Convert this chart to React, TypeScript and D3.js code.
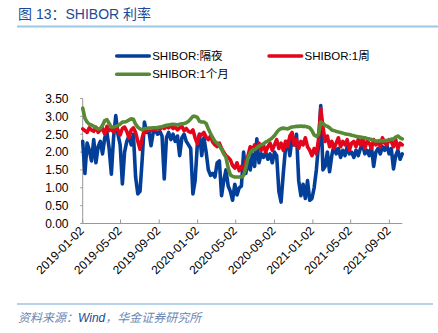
import React from "react";
import * as d3 from "d3";

// Weekly observations starting 2019-01-02
const overnight = [
  2.30, 1.40, 2.25, 2.05, 1.75, 2.35, 1.70, 2.15, 2.30, 1.95,
  2.40, 2.55, 2.10, 1.38, 2.40, 3.02, 2.50, 2.20, 1.11, 2.00,
  2.30, 2.45, 2.20, 2.50, 1.30, 0.83, 0.90, 1.80, 2.84, 2.55,
  2.60, 2.18, 2.55, 2.60, 2.50, 2.58, 2.45, 1.25, 2.40, 2.55,
  2.35, 2.50, 2.30, 2.45, 1.90, 2.40, 2.50, 2.30, 2.20, 2.10,
  0.83, 1.20, 2.20, 2.50, 1.90, 2.40, 2.00, 1.50, 1.35, 1.40,
  1.30, 1.70, 1.75, 0.78, 1.20, 1.50, 1.05, 0.90, 0.65, 1.10,
  0.80, 1.00, 1.05, 2.00, 1.40, 1.80, 1.50, 1.95, 1.60, 2.37,
  1.70, 1.95, 1.85, 2.00, 1.80, 1.95, 1.70, 2.00, 1.90, 0.90,
  0.60, 1.40, 2.10, 2.30, 1.90, 2.40, 2.20, 2.50, 1.20, 0.78,
  1.10, 0.70, 1.20, 0.65, 0.70, 1.00, 1.50, 2.20, 3.30, 1.50,
  1.60, 2.00, 1.45, 1.90, 2.20, 1.95, 2.10, 1.85, 2.05, 1.90,
  2.15, 1.95, 2.00, 1.85, 2.05, 1.90, 2.10, 2.20, 1.95, 2.05,
  1.90, 2.15, 1.60, 2.00, 2.10, 1.95, 2.15, 2.05, 2.20, 1.95,
  2.10, 1.53, 1.90, 2.05, 1.80, 1.95,
];

const oneWeek = [
  2.65, 2.60, 2.55, 2.68, 2.62, 2.58, 2.70, 2.55, 2.62, 2.66,
  2.50, 2.72, 2.60, 2.65, 2.55, 2.68, 2.62, 2.48, 2.66, 2.70,
  2.58, 2.40, 2.62, 2.68, 2.55, 2.30, 2.08, 2.40, 2.62, 2.58,
  2.65, 2.60, 2.66, 2.62, 2.68, 2.64, 2.70, 2.66, 2.72, 2.68,
  2.74, 2.66, 2.70, 2.62, 2.68, 2.72, 2.60, 2.66, 2.58, 2.55,
  2.62, 2.40, 2.24, 2.50, 2.48, 2.55, 2.42, 2.35, 2.45, 2.28,
  2.20, 2.15, 2.25, 2.10, 2.00, 1.90, 1.85, 1.78, 1.62, 1.55,
  1.70, 1.48, 1.60, 1.52, 1.75, 1.90, 2.15, 2.05, 2.20, 2.10,
  2.25, 2.05, 2.20, 2.00, 2.15, 2.25, 2.05, 2.20, 2.35, 2.10,
  2.25, 2.05, 2.30, 2.15, 2.45, 2.55, 2.20, 2.35, 2.10, 2.30,
  2.20, 2.40, 2.15, 2.05, 1.90, 2.10, 1.95, 2.35, 3.22, 2.70,
  2.30, 2.45, 2.15, 2.30, 2.10, 2.25, 2.40, 2.15, 2.30, 2.20,
  2.35, 2.05, 2.25, 2.30, 2.15, 2.35, 2.20, 2.40, 2.10, 2.30,
  2.25, 2.10, 2.35, 2.20, 2.30, 2.15, 2.40, 2.25, 2.20, 2.35,
  2.30, 2.15, 2.35, 2.10, 2.25, 2.20,
];

const oneMonth = [
  3.23, 2.95, 2.84, 2.78, 2.76, 2.72, 2.68, 2.65, 2.66, 2.75,
  2.88, 2.91, 2.80, 2.70, 2.70, 2.72, 2.75, 2.78, 2.84, 2.84,
  2.86, 2.90, 2.93, 2.92, 2.78, 2.70, 2.65, 2.62, 2.66, 2.66,
  2.67, 2.67, 2.68, 2.68, 2.69, 2.70, 2.71, 2.73, 2.75, 2.76,
  2.77, 2.78, 2.77, 2.76, 2.78, 2.79, 2.80, 2.82, 2.86, 2.93,
  3.00, 3.00, 2.97, 2.86, 2.84, 2.84, 2.80, 2.65, 2.52, 2.40,
  2.30, 2.25, 2.18, 2.08, 1.95, 1.85, 1.55, 1.36, 1.32, 1.30,
  1.30, 1.30, 1.30, 1.35, 1.55, 1.85, 1.98, 2.05, 2.07, 2.12,
  2.17, 2.20, 2.23, 2.28, 2.31, 2.35, 2.40, 2.46, 2.55, 2.62,
  2.66, 2.67, 2.66, 2.65, 2.68, 2.70, 2.71, 2.72, 2.72, 2.73,
  2.72, 2.72, 2.70, 2.68, 2.60, 2.48, 2.44, 2.50, 2.84, 2.80,
  2.75, 2.72, 2.68, 2.62, 2.60, 2.58, 2.56, 2.55, 2.53, 2.51,
  2.50, 2.49, 2.47, 2.46, 2.44, 2.43, 2.42, 2.41, 2.40, 2.38,
  2.37, 2.35, 2.33, 2.31, 2.31, 2.32, 2.31, 2.32, 2.32, 2.34,
  2.36, 2.37, 2.42, 2.45, 2.40, 2.37,
];

const dates = oneMonth.map((_, i) => new Date(2019, 0, 2 + 7 * i));

const xTickLabels = [
  "2019-01-02", "2019-05-02", "2019-09-02", "2020-01-02", "2020-05-02",
  "2020-09-02", "2021-01-02", "2021-05-02", "2021-09-02",
];
const yTicks = [0, 0.5, 1, 1.5, 2, 2.5, 3, 3.5];

const seriesNames = ["SHIBOR:隔夜", "SHIBOR:1周", "SHIBOR:1个月"];
const seriesColors = ["#033f99", "#e3051b", "#568a35"];

const FONT = "'Liberation Sans', Arial, 'Noto Sans CJK SC', sans-serif";

export default function App() {
  const W = 438;
  const H = 333;
  const left = 82.7;
  const right = 402.3;
  const top = 98.5;
  const bottom = 223.5;

  const parse = d3.timeParse("%Y-%m-%d");
  const x = d3
    .scaleTime()
    .domain([new Date(2019, 0, 2), dates[dates.length - 1]])
    .range([left, right]);
  const y = d3.scaleLinear().domain([0, 3.5]).range([bottom, top]);

  const line = d3
    .line<number>()
    .x((_, i) => x(dates[i]))
    .y((d) => y(d));

  const all = [overnight, oneWeek, oneMonth];

  return (
    <svg
      width={W}
      height={H}
      style={{ position: "absolute", left: 0, top: 0, background: "#fff" }}
      fontFamily={FONT}
    >
      <rect x={0} y={0} width={W} height={H} fill="#fff" />
      {/* Title */}
      <text x={18} y={19} fontSize={14} fill="#1c4a97">
        图 13：SHIBOR 利率
      </text>
      <line x1={17} x2={438} y1={26.5} y2={26.5} stroke="#9cc8e3" strokeWidth={2} />

      {/* Legend */}
      {[0, 1, 2].map((k) => {
        const lx = k === 1 ? 269 : 116.7;
        const ly = k === 2 ? 74.3 : 56;
        return (
          <g key={k}>
            <line
              x1={lx}
              x2={lx + 32.6}
              y1={ly}
              y2={ly}
              stroke={seriesColors[k]}
              strokeWidth={3.5}
              strokeLinecap="round"
            />
            <text x={lx + 35.5} y={ly + 4} fontSize={11.5} fill="#000">
              {seriesNames[k]}
            </text>
          </g>
        );
      })}

      {/* Y axis */}
      <line x1={left} x2={left} y1={top} y2={bottom} stroke="#999" strokeWidth={1} />
      {yTicks.map((t) => (
        <g key={t}>
          <line x1={left - 2.5} x2={left} y1={y(t)} y2={y(t)} stroke="#999" />
          <text
            x={68.5}
            y={y(t) + 4.3}
            fontSize={12}
            textAnchor="end"
            fill="#000"
          >
            {t.toFixed(2)}
          </text>
        </g>
      ))}

      {/* X axis */}
      <line x1={left} x2={right} y1={bottom} y2={bottom} stroke="#999" strokeWidth={1} />
      {xTickLabels.map((s) => {
        const tx = x(parse(s) as Date);
        return (
          <g key={s}>
            <line x1={tx} x2={tx} y1={bottom} y2={bottom - 4} stroke="#999" />
            <text
              transform={`translate(${tx + 2},${bottom + 8}) rotate(-45)`}
              fontSize={12}
              textAnchor="end"
              fill="#000"
            >
              {s}
            </text>
          </g>
        );
      })}

      {/* Series */}
      {all.map((vals, k) => (
        <path
          key={k}
          d={line(vals) || ""}
          fill="none"
          stroke={seriesColors[k]}
          strokeWidth={3.6}
          strokeLinejoin="round"
          strokeLinecap="round"
        />
      ))}

      {/* Footer */}
      <line x1={17} x2={433} y1={304} y2={304} stroke="#6fa3d6" strokeWidth={1} />
      <text x={18} y={322} fontSize={12} fontStyle="italic" fill="#6d86b0">
        资料来源：<tspan fill="#1c4a97">Wind</tspan>，华金证券研究所
      </text>
    </svg>
  );
}
